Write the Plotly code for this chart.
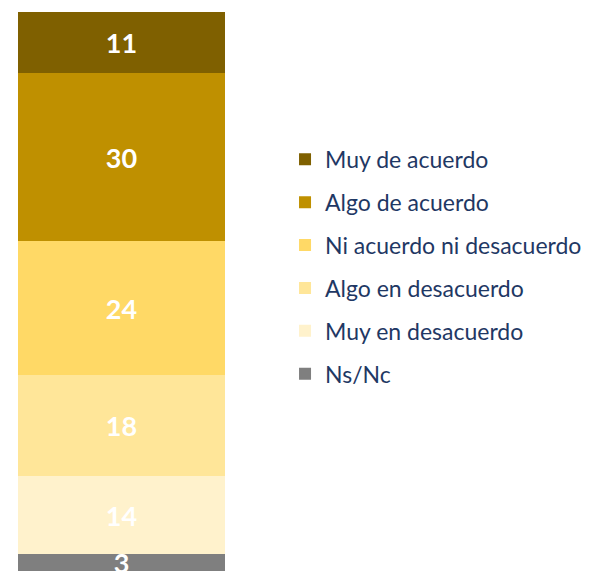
import plotly.graph_objects as go

categories = [""]
series_names = ["Ns/Nc", "Muy en desacuerdo", "Algo en desacuerdo",
                "Ni acuerdo ni desacuerdo", "Algo de acuerdo", "Muy de acuerdo"]
series_values = [3, 14, 18, 24, 30, 11]
series_colors = ["#7F7F7F", "#FFF2CC", "#FFE699", "#FFD966", "#BF9000", "#7F6000"]

fig = go.Figure()
n = len(series_names)
for i, (name, val, col) in enumerate(zip(series_names, series_values, series_colors)):
    fig.add_trace(go.Bar(
        x=categories, y=[val], name=name, legendgroup=name,
        legendrank=n - i,
        marker=dict(color=col, line=dict(width=0)),
        text=[str(val)], textposition="inside", insidetextanchor="middle",
        textangle=0,
        textfont=dict(color="white", size=27, family="Lato", weight=700),
        width=1,
    ))

fig.update_layout(
    barmode="stack",
    width=591, height=563,
    margin=dict(l=10, r=374, t=4, b=0),
    paper_bgcolor="white", plot_bgcolor="white",
    uniformtext=dict(mode="show", minsize=27),
    xaxis=dict(visible=False, range=[-0.5, 0.5]),
    yaxis=dict(visible=False, range=[0, 100]),
    showlegend=True,
    legend=dict(
        x=1.29, xanchor="left", y=0.775, yanchor="top",
        traceorder="grouped", tracegroupgap=10,
        font=dict(family="Lato", size=23, color="#1F3864"),
        itemwidth=30,
    ),
)

fig.write_html("out.html")
